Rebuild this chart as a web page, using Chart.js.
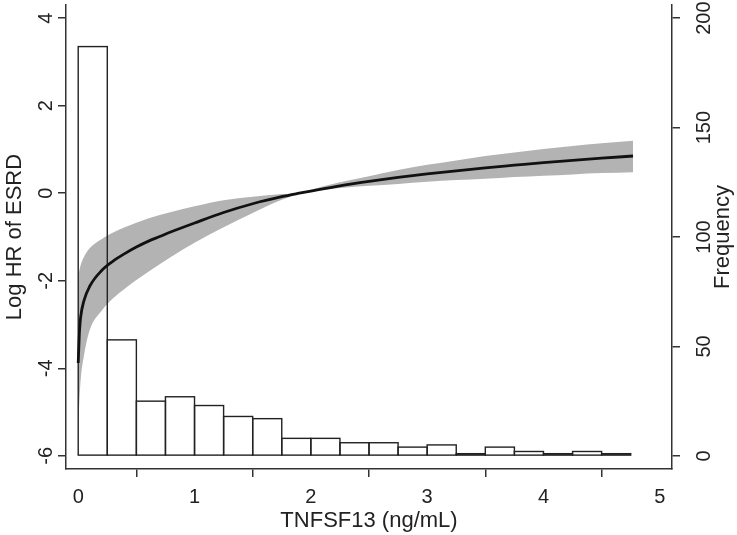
<!DOCTYPE html>
<html>
<head>
<meta charset="utf-8">
<script src="https://cdn.jsdelivr.net/npm/chart.js@4/dist/chart.umd.min.js"></script>
<style>
  html, body { margin: 0; padding: 0; background: #fff; }
  canvas { display: block; }
</style>
</head>
<body>
<canvas id="graph-esrd" width="737" height="535"></canvas>
<script>
// histogram of TNFSF13 (bin width 0.25)
const binMid = [0.125, 0.375, 0.625, 0.875, 1.125, 1.375, 1.625, 1.875, 2.125, 2.375,
                2.625, 2.875, 3.125, 3.375, 3.625, 3.875, 4.125, 4.375, 4.625];
const binFreq = [187, 53, 25, 27, 23, 18, 17, 8, 8, 6, 6, 4, 5, 1, 4, 2, 1, 2, 1];

// spline estimate of log HR
const curveX = [0, 0.01, 0.02, 0.05, 0.1, 0.2, 0.3, 0.4, 0.5, 0.6, 0.7, 0.8, 1.0, 1.25, 1.5,
                1.75, 1.9, 2.0, 2.25, 2.5, 2.75, 3.0, 3.25, 3.5, 3.75, 4.0, 4.25, 4.5, 4.77];
const curveY = [-3.88, -3.2, -2.85, -2.45, -2.12, -1.77, -1.55, -1.38, -1.23, -1.1, -0.99, -0.88, -0.68, -0.44, -0.24,
                -0.08, 0.0, 0.05, 0.17, 0.27, 0.36, 0.44, 0.51, 0.58, 0.64, 0.70, 0.75, 0.80, 0.85];

// 95% CI band
const bandX = [0, 0.02, 0.05, 0.1, 0.2, 0.3, 0.4, 0.6, 0.8, 1.0, 1.25, 1.5, 1.75, 1.9,
               2.0, 2.25, 2.5, 2.75, 3.0, 3.25, 3.5, 3.75, 4.0, 4.25, 4.5, 4.77];
const bandUpper = [-1.88, -1.65, -1.45, -1.25, -1.05, -0.9, -0.78, -0.58, -0.43, -0.3, -0.16, -0.08, -0.02, 0.0,
                   0.08, 0.25, 0.39, 0.53, 0.65, 0.75, 0.85, 0.93, 1.01, 1.08, 1.14, 1.2];
const bandLower = [-5.28, -4.3, -3.7, -3.12, -2.69, -2.4, -2.18, -1.8, -1.45, -1.13, -0.78, -0.45, -0.15, -0.01,
                   0.04, 0.12, 0.17, 0.21, 0.26, 0.3, 0.33, 0.37, 0.4, 0.43, 0.46, 0.48];

// tick labels
const xTicks = [0, 1, 2, 3, 4, 5];
const hrTicks = [-6, -4, -2, 0, 2, 4];
const freqTicks = [0, 50, 100, 150, 200];

const toPts = (xs, ys) => xs.map((x, i) => ({x: x, y: ys[i]}));
const fontFamily = "'Liberation Sans', Arial, sans-serif";
const ink = '#222';

const axisGrid = { drawOnChartArea: false, drawTicks: true, tickLength: 8, color: '#333', lineWidth: 1.5 };
const axisBorder = { display: true, color: '#333', width: 1.5 };

function noPad(axis) {
  axis.paddingTop = 0;
  axis.paddingBottom = 0;
  axis.paddingLeft = 0;
  axis.paddingRight = 0;
}

// outline the histogram bars with a stroke, so 1-count bins still show
const barOutline = {
  id: 'barOutline',
  afterDatasetDraw(chart, args) {
    if (args.index !== 1) return;
    const ctx = chart.ctx;
    ctx.save();
    ctx.strokeStyle = '#222';
    ctx.lineWidth = 1.4;
    args.meta.data.forEach(bar => {
      const p = bar.getProps(['x', 'y', 'base', 'width'], true);
      ctx.strokeRect(p.x - p.width / 2, p.y, p.width, p.base - p.y);
    });
    ctx.restore();
  }
};

// Stata style right-hand title, reads bottom to top
const rightTitle = {
  id: 'rightTitle',
  afterDraw(chart) {
    const ctx = chart.ctx;
    const a = chart.chartArea;
    ctx.save();
    ctx.translate(723, (a.top + a.bottom) / 2);
    ctx.rotate(-Math.PI / 2);
    ctx.font = '22px ' + fontFamily;
    ctx.fillStyle = ink;
    ctx.textAlign = 'center';
    ctx.textBaseline = 'middle';
    ctx.fillText('Frequency', 0, 0);
    ctx.restore();
  }
};

var ctx = document.getElementById('graph-esrd').getContext('2d');
var esrd = new Chart(ctx, {
  type: 'line',
  data: {
    datasets: [{
      type: 'line',
      data: toPts(curveX, curveY),
      yAxisID: 'y',
      borderColor: '#111',
      borderWidth: 2.8,
      pointRadius: 0,
      cubicInterpolationMode: 'monotone',
      fill: false,
      order: 0
    }, {
      type: 'bar',
      data: toPts(binMid, binFreq),
      yAxisID: 'y2',
      backgroundColor: 'rgba(0,0,0,0)',
      borderWidth: 0,
      barPercentage: 1,
      categoryPercentage: 1,
      order: 1
    }, {
      type: 'line',
      data: toPts(bandX, bandUpper),
      yAxisID: 'y',
      borderWidth: 0,
      pointRadius: 0,
      cubicInterpolationMode: 'monotone',
      backgroundColor: '#b3b3b3',
      fill: '+1',
      order: 2
    }, {
      type: 'line',
      data: toPts(bandX, bandLower),
      yAxisID: 'y',
      borderWidth: 0,
      pointRadius: 0,
      cubicInterpolationMode: 'monotone',
      fill: false,
      order: 3
    }]
  },
  plugins: [barOutline, rightTitle],
  options: {
    responsive: false,
    animation: false,
    layout: { padding: { top: 5, left: 0, right: 0, bottom: 0 } },
    plugins: { legend: { display: false }, tooltip: { enabled: false } },
    scales: {
      x: {
        type: 'linear',
        offset: false,
        min: -0.105,
        max: 5.105,
        grid: axisGrid,
        border: axisBorder,
        afterBuildTicks: axis => { axis.ticks = xTicks.map(v => ({value: v})); },
        afterFit: axis => { axis.height = 66; noPad(axis); },
        ticks: { color: ink, padding: 8, font: { family: fontFamily, size: 20 }, autoSkip: false, maxRotation: 0 },
        title: { display: true, text: 'TNFSF13 (ng/mL)', color: ink, padding: { top: 0, bottom: 1 }, font: { family: fontFamily, size: 22 } }
      },
      y: {
        position: 'left',
        min: -6.3,
        max: 4.3,
        grid: axisGrid,
        border: axisBorder,
        afterBuildTicks: axis => { axis.ticks = hrTicks.map(v => ({value: v})); },
        afterFit: axis => { axis.width = 66; noPad(axis); },
        ticks: { color: ink, padding: 3, crossAlign: 'center', minRotation: 90, maxRotation: 90, autoSkip: false,
                 font: { family: fontFamily, size: 20 } },
        title: { display: true, text: 'Log HR of ESRD', color: ink, padding: { top: 2, bottom: 0 }, font: { family: fontFamily, size: 22 } }
      },
      y2: {
        position: 'right',
        min: -6,
        max: 206,
        grid: axisGrid,
        border: axisBorder,
        afterBuildTicks: axis => { axis.ticks = freqTicks.map(v => ({value: v})); },
        afterFit: axis => { axis.width = 65; noPad(axis); },
        ticks: { color: ink, padding: 8, crossAlign: 'center', minRotation: 90, maxRotation: 90, autoSkip: false,
                 font: { family: fontFamily, size: 20 } }
      }
    }
  }
});
</script>
</body>
</html>
